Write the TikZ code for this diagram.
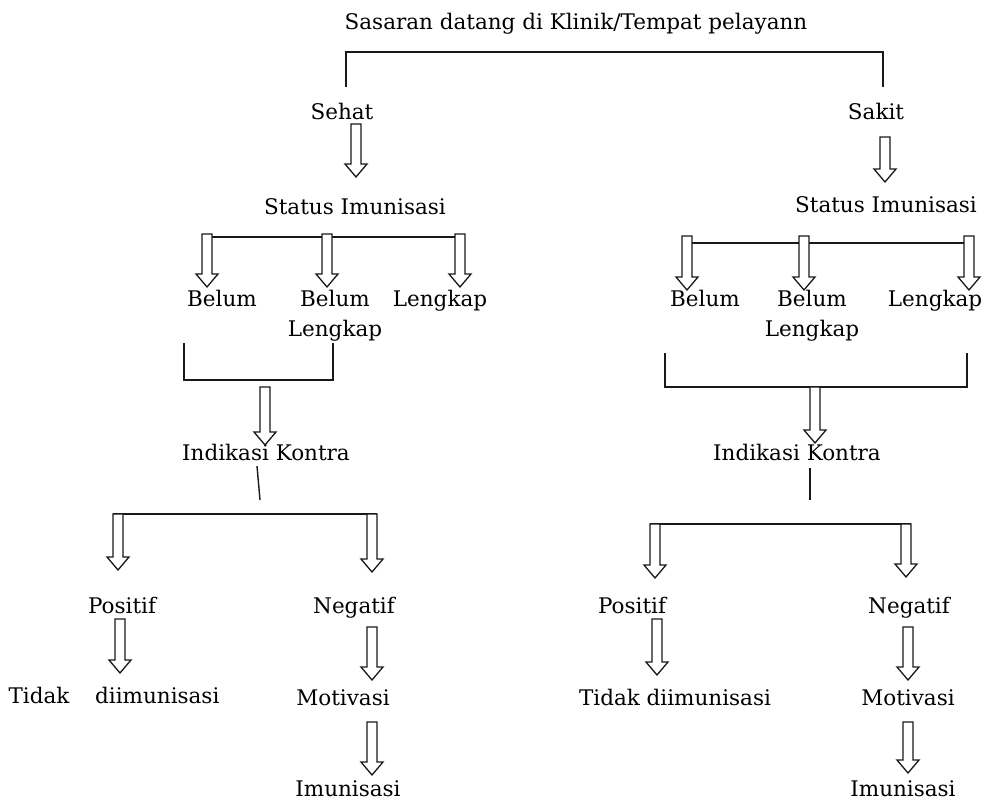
\documentclass[tikz,border=0pt]{standalone}
\usepackage{fontspec}
\setmainfont{DejaVu Serif}
\usetikzlibrary{calc}
\newcommand\dfont{\fontsize{21.5}{30}\selectfont}
\begin{document}
\begin{tikzpicture}[x=1pt,y=-1pt,
  lbl/.style={font=\dfont, inner sep=0pt, anchor=base, align=center},
  ln/.style={draw=black!90, line width=1.4pt},
  harrow/.style={draw=black!90, fill=white, line width=1.3pt, line join=miter,
    to path={let \p1=(\tikztostart), \p2=(\tikztotarget) in
      (\x1-5pt,\y1) -- (\x1-5pt,\y2+13pt) -- (\x1-11pt,\y2+13pt) -- (\x1,\y2)
      -- (\x1+11pt,\y2+13pt) -- (\x1+5pt,\y2+13pt) -- (\x1+5pt,\y1) -- cycle}}]
\useasboundingbox (0,0) rectangle (988,805);

% labels
\node[lbl] (top) at (576,30) {Sasaran datang di Klinik/Tempat pelayann};
\node[lbl] (sehat) at (342,120) {Sehat};
\node[lbl] (sakit) at (876,120) {Sakit};
\node[lbl] (statL) at (355,215) {Status Imunisasi};
\node[lbl] (statR) at (886,213) {Status Imunisasi};
\node[lbl] (bL1) at (222,306) {Belum};
\node[lbl] (blL) at (335,336) {Belum\\Lengkap};
\node[lbl] (lkL) at (440,306) {Lengkap};
\node[lbl] (bR1) at (705,306) {Belum};
\node[lbl] (blR) at (812,336) {Belum\\Lengkap};
\node[lbl] (lkR) at (935,306) {Lengkap};
\node[lbl] (indL) at (266,460) {Indikasi Kontra};
\node[lbl] (indR) at (797,460) {Indikasi Kontra};
\node[lbl] (posL) at (122,613) {Positif};
\node[lbl] (negL) at (354,613) {Negatif};
\node[lbl] (tidL) at (114,703) {Tidak\hspace{1.2em}diimunisasi};
\node[lbl] (motL) at (343,705) {Motivasi};
\node[lbl] (imuL) at (348,796) {Imunisasi};
\node[lbl] (posR) at (632,613) {Positif};
\node[lbl] (negR) at (909,613) {Negatif};
\node[lbl] (tidR) at (675,705) {Tidak diimunisasi};
\node[lbl] (motR) at (908,705) {Motivasi};
\node[lbl] (imuR) at (903,796) {Imunisasi};

% top bracket
\coordinate (t1) at (346,87); \coordinate (t2) at (346,52);
\coordinate (t3) at (883,52); \coordinate (t4) at (883,87);
\draw[ln] (t1) -- (t2) -- (t3) -- (t4);

% Sehat / Sakit arrows
\coordinate (a1s) at (356,124); \coordinate (a1e) at (356,177);
\coordinate (a2s) at (885,137); \coordinate (a2e) at (885,182);
\path[harrow] (a1s) to (a1e);
\path[harrow] (a2s) to (a2e);

% left status branch
\coordinate (hL1) at (207,237); \coordinate (hL2) at (460,237);
\draw[ln] (hL1) -- (hL2);
\coordinate (sL1) at (207,234); \coordinate (eL1) at (207,287);
\coordinate (sL2) at (327,234); \coordinate (eL2) at (327,287);
\coordinate (sL3) at (460,234); \coordinate (eL3) at (460,287);
\path[harrow] (sL1) to (eL1);
\path[harrow] (sL2) to (eL2);
\path[harrow] (sL3) to (eL3);

% right status branch
\coordinate (hR1) at (687,243); \coordinate (hR2) at (969,243);
\draw[ln] (hR1) -- (hR2);
\coordinate (sR1) at (687,236); \coordinate (eR1) at (687,290);
\coordinate (sR2) at (804,236); \coordinate (eR2) at (804,290);
\coordinate (sR3) at (969,236); \coordinate (eR3) at (969,290);
\path[harrow] (sR1) to (eR1);
\path[harrow] (sR2) to (eR2);
\path[harrow] (sR3) to (eR3);

% left lower bracket
\coordinate (bl1) at (184,343); \coordinate (bl2) at (184,380);
\coordinate (bl3) at (333,380); \coordinate (bl4) at (333,343);
\draw[ln] (bl1) -- (bl2) -- (bl3) -- (bl4);
\coordinate (kLs) at (265,387); \coordinate (kLe) at (265,445);
\path[harrow] (kLs) to (kLe);

% right lower bracket
\coordinate (br1) at (665,353); \coordinate (br2) at (665,387);
\coordinate (br3) at (967,387); \coordinate (br4) at (967,353);
\draw[ln] (br1) -- (br2) -- (br3) -- (br4);
\coordinate (kRs) at (815,387); \coordinate (kRe) at (815,443);
\path[harrow] (kRs) to (kRe);

% Indikasi Kontra stems
\coordinate (iL1) at (257,466); \coordinate (iL2) at (260,500);
\draw[ln] (iL1) -- (iL2);
\coordinate (iR1) at (810,468); \coordinate (iR2) at (810,500);
\draw[ln] (iR1) -- (iR2);

% left split
\coordinate (pL1) at (113,514); \coordinate (pL2) at (377,514);
\draw[ln] (pL1) -- (pL2);
\coordinate (qL1) at (118,514); \coordinate (rL1) at (118,570);
\coordinate (qL2) at (372,514); \coordinate (rL2) at (372,572);
\path[harrow] (qL1) to (rL1);
\path[harrow] (qL2) to (rL2);

% right split
\coordinate (pR1) at (650,524); \coordinate (pR2) at (911,524);
\draw[ln] (pR1) -- (pR2);
\coordinate (qR1) at (655,524); \coordinate (rR1) at (655,578);
\coordinate (qR2) at (906,524); \coordinate (rR2) at (906,577);
\path[harrow] (qR1) to (rR1);
\path[harrow] (qR2) to (rR2);

% lower arrows left
\coordinate (u1) at (120,619); \coordinate (v1) at (120,673);
\coordinate (u2) at (372,627); \coordinate (v2) at (372,680);
\coordinate (u3) at (372,722); \coordinate (v3) at (372,775);
\path[harrow] (u1) to (v1);
\path[harrow] (u2) to (v2);
\path[harrow] (u3) to (v3);

% lower arrows right
\coordinate (u4) at (657,619); \coordinate (v4) at (657,675);
\coordinate (u5) at (908,627); \coordinate (v5) at (908,680);
\coordinate (u6) at (908,722); \coordinate (v6) at (908,773);
\path[harrow] (u4) to (v4);
\path[harrow] (u5) to (v5);
\path[harrow] (u6) to (v6);
\end{tikzpicture}
\end{document}
